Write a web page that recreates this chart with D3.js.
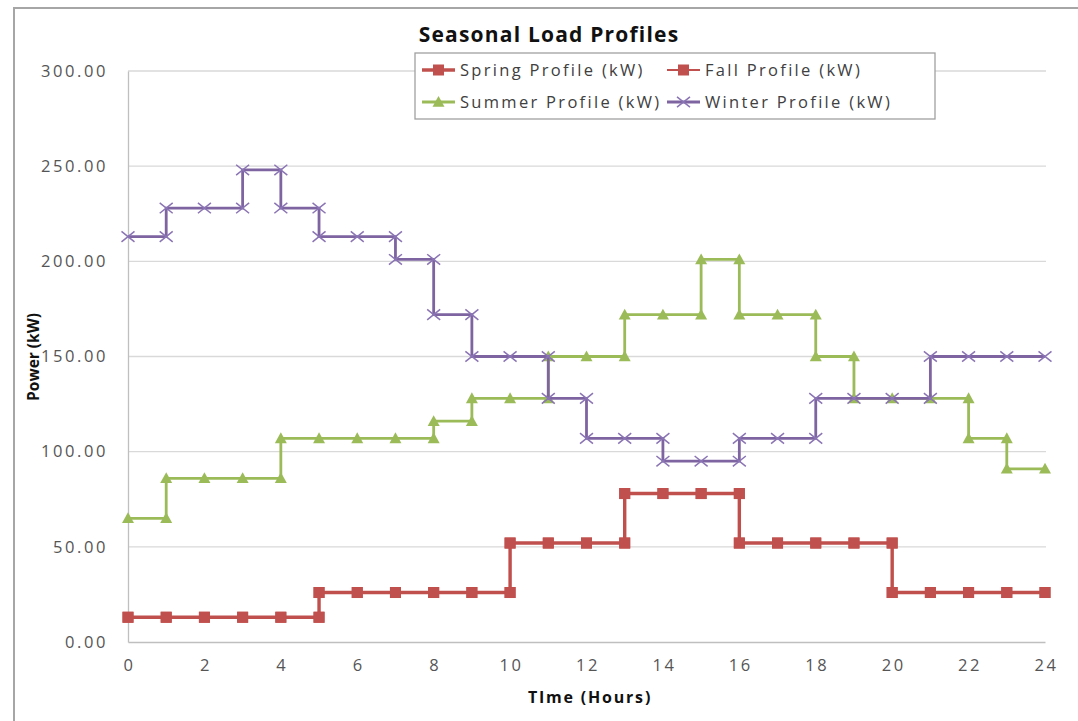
<!DOCTYPE html>
<html>
<head>
<meta charset="utf-8">
<script src="https://cdn.jsdelivr.net/npm/d3@7"></script>
<style>
    body { margin: 0; background: #fff; }
    text { font-family: "Open Sans", sans-serif; }
</style>
</head>
<body>
<div id="chart"></div>
<script>
// Hourly load, value holds from hour h to h+1
const hours = d3.range(0, 24);
const springKW = [13, 13, 13, 13, 13, 26, 26, 26, 26, 26, 52, 52, 52, 78, 78, 78, 52, 52, 52, 52, 26, 26, 26, 26];
const fallKW   = [13, 13, 13, 13, 13, 26, 26, 26, 26, 26, 52, 52, 52, 78, 78, 78, 52, 52, 52, 52, 26, 26, 26, 26];
const summerKW = [65, 86, 86, 86, 107, 107, 107, 107, 116, 128, 128, 150, 150, 172, 172, 201, 172, 172, 150, 128, 128, 128, 107, 91];
const winterKW = [213, 228, 228, 248, 228, 213, 213, 201, 172, 150, 150, 128, 107, 107, 95, 95, 107, 107, 128, 128, 128, 150, 150, 150];
const yTicks = [0, 50, 100, 150, 200, 250, 300];
const xTicks = d3.range(0, 25, 2);

const width = 1078, height = 721;
const margin = {top: 71, right: 33, bottom: 79, left: 128};

const svg = d3.select("#chart").append("svg")
    .attr("width", width)
    .attr("height", height);

// outer chart frame
svg.append("rect")
    .attr("x", 14).attr("y", 8)
    .attr("width", width + 10).attr("height", height + 10)
    .attr("fill", "none")
    .attr("stroke", "#a6a6a6")
    .attr("stroke-width", 2);

const x = d3.scaleLinear().domain([0, 24]).range([margin.left, width - margin.right]);
const y = d3.scaleLinear().domain([0, 300]).range([height - margin.bottom, margin.top]);

// gridlines
svg.append("g")
    .selectAll("line")
    .data(yTicks.filter(d => d > 0))
    .enter()
    .append("line")
    .attr("x1", x(0)).attr("x2", x(24) + 1)
    .attr("y1", d => y(d)).attr("y2", d => y(d))
    .attr("stroke", "#d9d9d9")
    .attr("stroke-width", 1.3);

// axes
const yAxis = svg.append("g")
    .attr("transform", `translate(${x(0)},0)`)
    .call(d3.axisLeft(y).tickValues(yTicks).tickSize(0).tickPadding(20).tickFormat(d3.format(".2f")));
const xAxis = svg.append("g")
    .attr("transform", `translate(0,${y(0)})`)
    .call(d3.axisBottom(x).tickValues(xTicks).tickSize(0).tickPadding(17).tickFormat(d3.format("d")));

[yAxis, xAxis].forEach(a => {
    a.select(".domain").attr("stroke", "#bfbfbf").attr("stroke-width", 1.3);
    a.selectAll("text")
        .style("font-family", "Open Sans")
        .attr("font-size", 16.5)
        .attr("letter-spacing", 2.6)
        .attr("fill", "#555");
});
xAxis.selectAll("text").attr("dx", 1);

// step points: at every hour mark the previous value and the new one
function stepPoints(vals) {
    let pts = [];
    for (let h = 0; h <= 24; h++) {
        if (h > 0) pts.push([h, vals[h - 1]]);
        if (h < 24 && (h === 0 || vals[h] !== vals[h - 1])) pts.push([h, vals[h]]);
    }
    return pts;
}

const line = d3.line().x(d => x(d[0])).y(d => y(d[1]));

const series = [
    {name: "Spring Profile (kW)", vals: springKW, color: "#c0504d", width: 3.4, marker: "square", size: 11},
    {name: "Fall Profile (kW)", vals: fallKW, color: "#c0504d", width: 2, marker: "square", size: 11},
    {name: "Summer Profile (kW)", vals: summerKW, color: "#9bbb59", width: 2.8, marker: "triangle", size: 12},
    {name: "Winter Profile (kW)", vals: winterKW, color: "#7f64a2", width: 2.8, marker: "cross", size: 13}
];

function drawMarker(g, s, cx, cy) {
    const r = s.size / 2;
    if (s.marker === "square") {
        g.append("rect")
            .attr("x", cx - r).attr("y", cy - r)
            .attr("width", s.size).attr("height", s.size)
            .attr("fill", s.color);
    } else if (s.marker === "triangle") {
        g.append("path")
            .attr("d", `M${cx},${cy - r}L${cx + r},${cy + r * 0.8}L${cx - r},${cy + r * 0.8}Z`)
            .attr("fill", s.color);
    } else {
        g.append("path")
            .attr("d", `M${cx - r},${cy - r * 0.8}L${cx + r},${cy + r * 0.8}M${cx - r},${cy + r * 0.8}L${cx + r},${cy - r * 0.8}`)
            .attr("stroke", "#8a74b4")
            .attr("stroke-width", 1.5)
            .attr("fill", "none");
    }
}

series.forEach(s => {
    const g = svg.append("g");
    const pts = stepPoints(s.vals);
    g.append("path")
        .datum(pts)
        .attr("d", line)
        .attr("fill", "none")
        .attr("stroke", s.color)
        .attr("stroke-width", s.width);
    pts.forEach(p => drawMarker(g, s, x(p[0]), y(p[1])));
});

// title
svg.append("text")
    .attr("x", 549).attr("y", 42)
    .attr("text-anchor", "middle")
    .attr("font-size", 21)
    .attr("font-weight", "bold")
    .attr("letter-spacing", 1.2)
    .attr("fill", "#111")
    .text("Seasonal Load Profiles");

// axis titles
svg.append("text")
    .attr("x", 590).attr("y", 703)
    .attr("text-anchor", "middle")
    .attr("font-size", 16)
    .attr("font-weight", "bold")
    .attr("letter-spacing", 1.8)
    .attr("fill", "#111")
    .text("TIme (Hours)");

svg.append("text")
    .attr("transform", "translate(39,357) rotate(-90)")
    .attr("text-anchor", "middle")
    .attr("font-size", 15.5)
    .attr("font-weight", "bold")
    .attr("fill", "#111")
    .text("Power (kW)");

// legend
const legend = svg.append("g");
legend.append("rect")
    .attr("x", 415).attr("y", 53)
    .attr("width", 520).attr("height", 66)
    .attr("fill", "#fff")
    .attr("stroke", "#a0a0a0")
    .attr("stroke-width", 1.3);

const legendPos = [[422, 70], [667, 70], [422, 102], [667, 102]];
series.forEach((s, i) => {
    const [lx, ly] = legendPos[i];
    const g = legend.append("g");
    g.append("line")
        .attr("x1", lx).attr("x2", lx + 33)
        .attr("y1", ly).attr("y2", ly)
        .attr("stroke", s.color)
        .attr("stroke-width", s.width);
    drawMarker(g, s, lx + 16.5, ly);
    g.append("text")
        .attr("x", lx + 38).attr("y", ly + 6)
        .attr("font-size", 16.5)
        .attr("letter-spacing", 2.3)
        .attr("fill", "#404040")
        .text(s.name);
});
</script>
</body>
</html>
